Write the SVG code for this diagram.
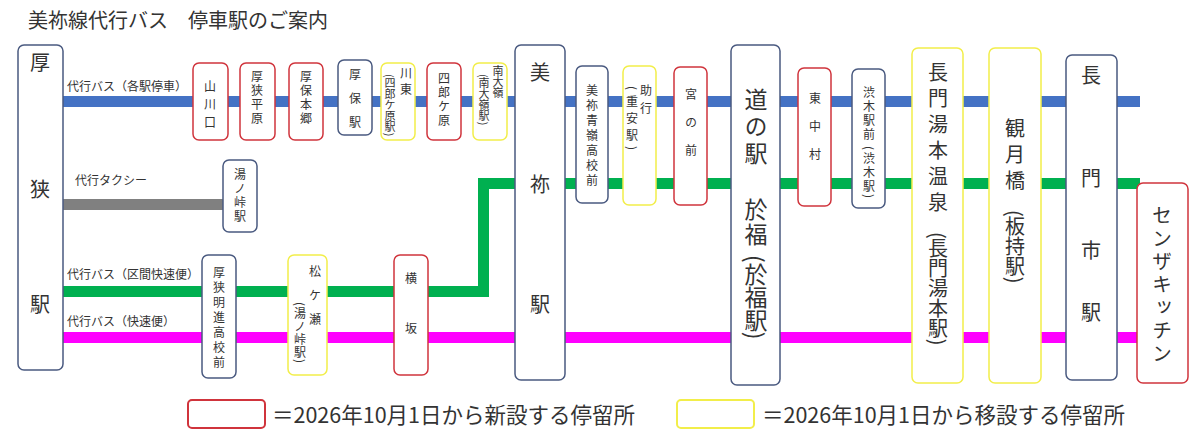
<svg xmlns="http://www.w3.org/2000/svg" width="1200" height="441" viewBox="0 0 1200 441">
<style>
text{font-family:"Noto Sans CJK JP","Noto Sans",sans-serif;fill:#333}
.v{writing-mode:vertical-rl}
.n rect{fill:#fff;stroke-width:1.5}
.r rect{stroke:#d0343c}
.y rect{stroke:#f2ee4a}
.b rect{stroke:#4a5a80}
.s{font-size:12px;letter-spacing:2px}
.t{font-size:11px}
.m{font-size:20px}
.L{font-size:23px}
.lbl{font-size:12px}
</style>
<rect width="1200" height="441" fill="#fff"/>
<text x="28" y="28" font-size="20">美祢線代行バス　停車駅のご案内</text>
<g id="connectors">
<rect x="63" y="96" width="1077" height="11" fill="#4472c4"/>
<rect x="478" y="178" width="662" height="11" fill="#00b050"/>
<rect x="63" y="286" width="426" height="11" fill="#00b050"/>
<rect x="478" y="178" width="11" height="119" fill="#00b050"/>
<rect x="63" y="199" width="162" height="11" fill="#808080"/>
<rect x="63" y="332" width="1077" height="11" fill="#ff00ff"/>
</g>
<text x="67" y="91" class="lbl">代行バス（各駅停車）</text>
<text x="75" y="185" class="lbl">代行タクシー</text>
<text x="67" y="279" class="lbl">代行バス（区間快速便）</text>
<text x="67" y="326" class="lbl">代行バス（快速便）</text>

<g id="asa" class="n b"><rect x="18" y="45" width="45" height="325" rx="6"/><text x="40" y="70" class="m" text-anchor="middle">厚</text><text x="40" y="197" class="m" text-anchor="middle">狭</text><text x="40" y="312" class="m" text-anchor="middle">駅</text></g>
<g id="yamakawaguchi" class="n r"><rect x="193" y="63" width="35" height="77" rx="6"/><text x="210" y="80" class="v s" style="letter-spacing:6px">山川口</text></g>
<g id="asahirabara" class="n r"><rect x="240" y="63" width="35" height="77" rx="6"/><text x="257" y="70" class="v s">厚狭平原</text></g>
<g id="atohongo" class="n r"><rect x="289" y="63" width="34" height="77" rx="6"/><text x="306" y="70" class="v s">厚保本郷</text></g>
<g id="ato" class="n b"><rect x="338" y="60" width="34" height="75" rx="6"/><text x="355" y="68" class="v s" style="letter-spacing:12px">厚保駅</text></g>
<g id="kawahigashi" class="n y"><rect x="381" y="63" width="34" height="77" rx="6"/><text x="406" y="67" class="v s" style="letter-spacing:4px">川東</text><text x="390" y="74" class="v t">(四郎ケ原駅)</text></g>
<g id="shirogahara" class="n r"><rect x="427" y="63" width="34" height="77" rx="6"/><text x="444" y="72" class="v s">四郎ケ原</text></g>
<g id="minamiomine" class="n y"><rect x="473" y="63" width="34" height="77" rx="6"/><text x="498" y="65" class="v t">南大嶺</text><text x="484" y="74" class="v t">(南大嶺駅)</text></g>
<g id="mine" class="n b"><rect x="515" y="45" width="50" height="335" rx="6"/><text x="540" y="80" class="m" text-anchor="middle">美</text><text x="540" y="192" class="m" text-anchor="middle">祢</text><text x="540" y="312" class="m" text-anchor="middle">駅</text></g>
<g id="seirei" class="n b"><rect x="576" y="66" width="32" height="137" rx="6"/><text x="592" y="84" class="v s" style="letter-spacing:3px">美祢青嶺高校前</text></g>
<g id="sukeyuki" class="n y"><rect x="623" y="66" width="33" height="139" rx="6"/><text x="646" y="84" class="v s" style="letter-spacing:6px">助行</text><text x="632" y="86" class="v s" style="letter-spacing:5px">(重安駅)</text></g>
<g id="miyanomae" class="n r"><rect x="674" y="67" width="33" height="138" rx="6"/><text x="691" y="88" class="v s" style="letter-spacing:16px">宮の前</text></g>
<g id="ofuku" class="n b"><rect x="731" y="45" width="49" height="340" rx="6"/><text x="756" y="88" class="v L" style="letter-spacing:4px">道の駅</text><text x="756" y="198" class="v L" style="letter-spacing:2px">於福</text><text x="756" y="255" class="v L">(於福駅)</text></g>
<g id="higashinakamura" class="n r"><rect x="798" y="68" width="33" height="138" rx="6"/><text x="815" y="92" class="v s" style="letter-spacing:16px">東中村</text></g>
<g id="shibuki" class="n b"><rect x="852" y="69" width="33" height="139" rx="6"/><text x="869" y="86" class="v s">渋木駅前</text><text x="869" y="146" class="v s">(渋木駅)</text></g>
<g id="yumoto" class="n y"><rect x="912" y="48" width="51" height="335" rx="6"/><text x="938" y="62" class="v m" style="letter-spacing:6px">長門湯本温泉</text><text x="938" y="232" class="v m">(長門湯本駅)</text></g>
<g id="kangetsukyo" class="n y"><rect x="989" y="48" width="52" height="335" rx="6"/><text x="1015" y="118" class="v m" style="letter-spacing:6px">観月橋</text><text x="1015" y="210" class="v m">(板持駅)</text></g>
<g id="nagatoshi" class="n b"><rect x="1066" y="55" width="51" height="325" rx="6"/><text x="1091" y="83" class="m" text-anchor="middle">長</text><text x="1091" y="186" class="m" text-anchor="middle">門</text><text x="1091" y="258" class="m" text-anchor="middle">市</text><text x="1091" y="320" class="m" text-anchor="middle">駅</text></g>
<g id="senzakitchen" class="n r"><rect x="1137" y="183" width="51" height="200" rx="6"/><text x="1162" y="205" class="v m" style="letter-spacing:3px">センザキッチン</text></g>
<g id="yunotoge" class="n b"><rect x="223" y="160" width="34" height="72" rx="6"/><text x="240" y="168" class="v s">湯ノ峠駅</text></g>
<g id="meishin" class="n b"><rect x="202" y="255" width="34" height="123" rx="6"/><text x="219" y="266" class="v s" style="letter-spacing:3px">厚狭明進高校前</text></g>
<g id="matsugase" class="n y"><rect x="288" y="255" width="39" height="120" rx="6"/><text x="315" y="265" class="v s" style="letter-spacing:12px">松ケ瀬</text><text x="300" y="302" class="v s" style="letter-spacing:1px">(湯ノ峠駅)</text></g>
<g id="yokosaka" class="n r"><rect x="394" y="255" width="34" height="120" rx="6"/><text x="411" y="272" class="v s" style="letter-spacing:38px">横坂</text></g>

<g id="legend">
<rect x="188" y="400" width="77" height="28" rx="4" fill="#fff" stroke="#d0343c" stroke-width="2"/>
<text x="272" y="423" font-size="21.5">＝2026年10月1日から新設する停留所</text>
<rect x="677" y="400" width="77" height="28" rx="4" fill="#fff" stroke="#f2ee4a" stroke-width="2"/>
<text x="762" y="423" font-size="21.5">＝2026年10月1日から移設する停留所</text>
</g>
</svg>
